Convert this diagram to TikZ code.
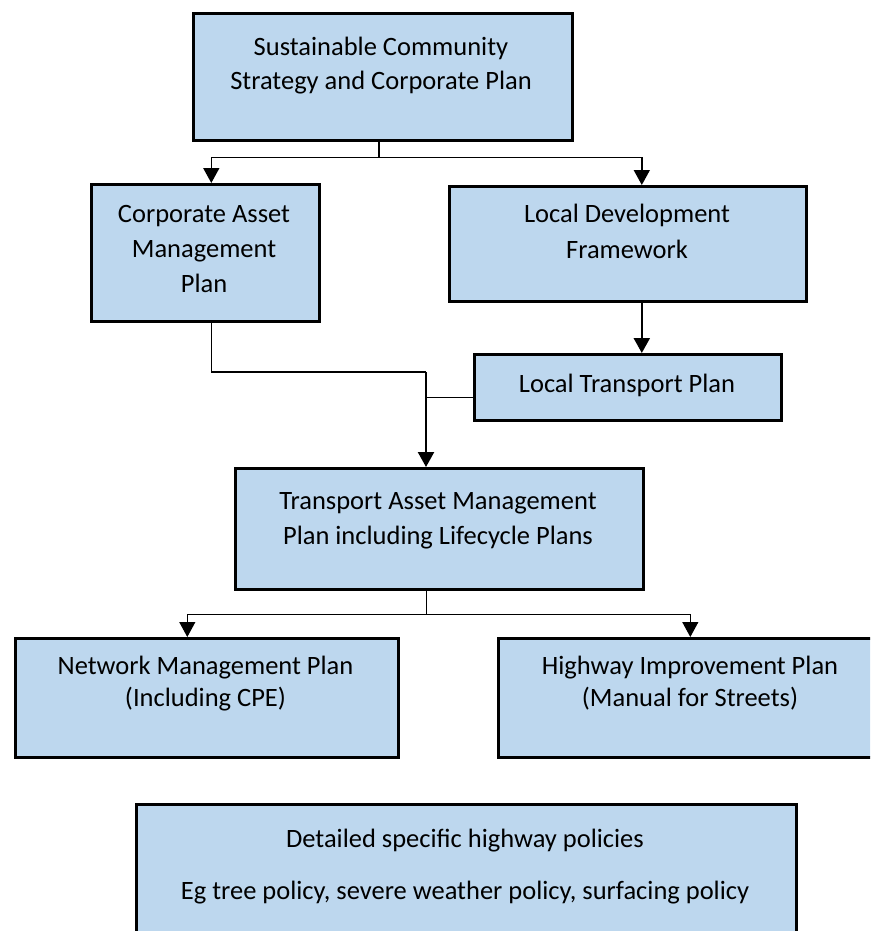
\documentclass[tikz,border=0pt]{standalone}
\usepackage{fontspec}
\setmainfont{Carlito}
\usetikzlibrary{arrows.meta,calc}
\definecolor{boxblue}{RGB}{189,215,238}
\tikzset{
  box/.style={draw=black, fill=boxblue, line width=2.6pt, rectangle, inner sep=0pt, anchor=north west},
  txt/.style={font=\fontsize{26.5}{32}\selectfont, anchor=base, inner sep=0pt},
  conn/.style={line width=1.1pt, draw=black},
  midconn/.style={line width=1.6pt, draw=black},
  thickconn/.style={line width=2.3pt, draw=black},
  arr/.style={-{Triangle[width=16pt,length=15pt]}},
}
\begin{document}
\begin{tikzpicture}[x=1pt,y=-1pt]
\clip (0,0) rectangle (870,931);
\fill[white] (0,0) rectangle (870,931);

% boxes
\node[box, minimum width=379pt, minimum height=127pt] (top) at (192,12) {};
\node[box, minimum width=228pt, minimum height=137pt] (cam) at (90,183) {};
\node[box, minimum width=357pt, minimum height=115pt] (ldf) at (448,185) {};
\node[box, minimum width=307pt, minimum height=66pt] (ltp) at (473,353) {};
\node[box, minimum width=408pt, minimum height=121pt] (tamp) at (234,467) {};
\node[box, minimum width=383pt, minimum height=119pt] (nmp) at (14,637) {};
\node[box, minimum width=388pt, minimum height=119pt] (hip) at (497,637) {};
\node[box, minimum width=660pt, minimum height=147pt] (det) at (135,803) {};

% texts
\node[txt] (t1a) at (381,56) {Sustainable Community};
\node[txt] (t1b) at (381,90) {Strategy and Corporate Plan};
\node[txt] (t2a) at (204,222) {Corporate Asset};
\node[txt] (t2b) at (204,257) {Management};
\node[txt] (t2c) at (204,292) {Plan};
\node[txt] (t3a) at (627,222) {Local Development};
\node[txt] (t3b) at (627,258) {Framework};
\node[txt] (t4) at (627,392) {Local Transport Plan};
\node[txt] (t5a) at (438,509) {Transport Asset Management};
\node[txt] (t5b) at (438,544) {Plan including Lifecycle Plans};
\node[txt] (t6a) at (205.5,674) {Network Management Plan};
\node[txt] (t6b) at (205.5,706) {(Including CPE)};
\node[txt] (t7a) at (690,674) {Highway Improvement Plan};
\node[txt] (t7b) at (690,706) {(Manual for Streets)};
\node[txt] (t8a) at (465,847) {Detailed specific highway policies};
\node[txt] (t8b) at (465,899) {Eg tree policy, severe weather policy, surfacing policy};

% connectors
\coordinate (j1) at ($(top.south)+(-4,16)$);
\draw[midconn] ($(top.south)+(-4,0)$) -- (j1);
\draw[midconn, arr] (j1) -| ($(cam.north)+(6,0)$);
\draw[midconn, arr] (j1) -| ($(ldf.north)+(14,0)$);
\draw[thickconn, arr] ($(ldf.south)+(14,0)$) -- ($(ltp.north)+(14,0)$);

\coordinate (j2) at (426,372);
\coordinate (ltpw) at ($(ltp.west)+(0,10)$);
\draw[conn] ($(cam.south)+(6,0)$) |- (j2);
\draw[conn] (ltpw) -- (ltpw -| j2);
\draw[thickconn, arr] (j2) -- (j2 |- tamp.north);

\coordinate (j3) at ($(tamp.south)+(-13,24)$);
\draw[conn] ($(tamp.south)+(-13,0)$) -- (j3);
\draw[conn, arr] (j3) -| ($(nmp.north)+(-19.5,0)$);
\draw[conn, arr] (j3) -| ($(hip.north)+(-2,0)$);
\end{tikzpicture}
\end{document}
